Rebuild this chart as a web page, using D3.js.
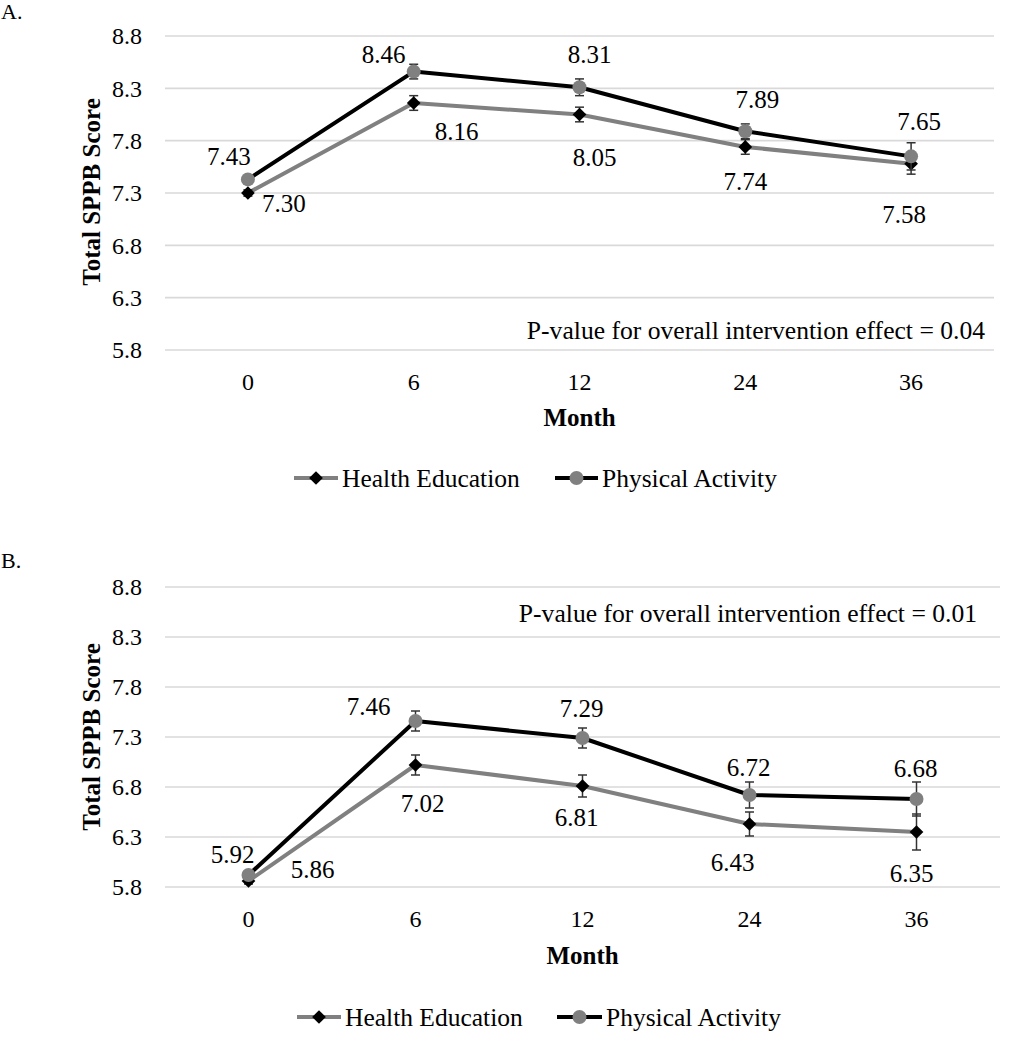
<!DOCTYPE html>
<html>
<head>
<meta charset="utf-8">
<script src="https://cdn.jsdelivr.net/npm/d3@7"></script>
<style>
  html, body { margin: 0; padding: 0; background: #fff; }
  svg { display: block; }
  svg text { font-family: "Liberation Serif", "Times New Roman", Times, Tinos, "Nimbus Roman", "DejaVu Serif", serif !important; fill: #000; }
</style>
</head>
<body>
<svg id="chart" width="1024" height="1050"></svg>
<script>
// ---------- data ----------
const months = ["0", "6", "12", "24", "36"];
const yTicks = [5.8, 6.3, 6.8, 7.3, 7.8, 8.3, 8.8];
const seriesNames = ["Health Education", "Physical Activity"];

// Panel A
const aHealthEdu    = [7.30, 8.16, 8.05, 7.74, 7.58];
const aHealthEduErr = [0.03, 0.07, 0.07, 0.07, 0.10];
const aPhysAct      = [7.43, 8.46, 8.31, 7.89, 7.65];
const aPhysActErr   = [0.03, 0.07, 0.08, 0.07, 0.13];
const aPText = "P-value for overall intervention effect = 0.04";

// Panel B
const bHealthEdu    = [5.86, 7.02, 6.81, 6.43, 6.35];
const bHealthEduErr = [0.03, 0.10, 0.11, 0.12, 0.18];
const bPhysAct      = [5.92, 7.46, 7.29, 6.72, 6.68];
const bPhysActErr   = [0.03, 0.10, 0.10, 0.13, 0.17];
const bPText = "P-value for overall intervention effect = 0.01";

// ---------- label placement (style) ----------
const aHELabelOff = [[36, 10], [43, 29], [15, 43], [0, 35], [-7, 51]];
const aPALabelOff = [[-19, -23], [-30, -17], [10, -33], [12, -32], [8, -35]];
const bHELabelOff = [[64, -12], [7, 38], [-6, 31], [-17, 38], [-5, 41]];
const bPALabelOff = [[-16, -21], [-47, -15], [-1, -30], [-1, -28], [-1, -31]];

const svg = d3.select("#chart");
const GRAY = "#808080";
const FONT = '"Liberation Serif", "Times New Roman", Times, Tinos, "Nimbus Roman", "DejaVu Serif", serif';
const fmtTick = d3.format(".1f");
const fmtVal = d3.format(".2f");
const diamond = d3.symbol(d3.symbolDiamond2, 120);

function drawPanel(cfg) {
  const g = svg.append("g").attr("font-family", FONT);
  const x = d3.scaleBand().domain(months).range([cfg.left, cfg.right]).padding(0);
  const y = d3.scaleLinear().domain([5.8, 8.8]).range([cfg.bottom, cfg.top]);

  g.append("text").attr("x", 1).attr("y", cfg.letterY)
    .style("font-size", "22px").text(cfg.letter);

  g.append("g").selectAll("line").data(yTicks).join("line")
    .attr("x1", cfg.left).attr("x2", cfg.right)
    .attr("y1", d => y(d)).attr("y2", d => y(d))
    .attr("stroke", "#d9d9d9").attr("stroke-width", 1.6);

  const yAxis = d3.axisLeft(y).tickValues(yTicks).tickFormat(fmtTick).tickSize(0).tickPadding(0);
  const ya = g.append("g").attr("transform", `translate(${cfg.tickLabelX},0)`).call(yAxis)
    .attr("font-family", FONT);
  ya.select(".domain").remove();
  ya.selectAll("text").style("font-size", "24px").attr("fill", "#000");

  const xAxis = d3.axisBottom(x).tickSize(0).tickPadding(0);
  const xa = g.append("g").attr("transform", `translate(0,${cfg.xLabelY})`).call(xAxis)
    .attr("font-family", FONT);
  xa.select(".domain").remove();
  xa.selectAll("text").attr("dy", "0.35em").attr("y", 0).style("font-size", "24px").attr("fill", "#000");

  g.append("text").attr("x", (cfg.left + cfg.right) / 2).attr("y", cfg.monthY)
    .attr("text-anchor", "middle").attr("dominant-baseline", "central")
    .style("font-size", "25px").style("font-weight", "bold").text("Month");
  g.append("text")
    .attr("transform", `translate(${cfg.yTitleX},${cfg.yTitleY}) rotate(-90)`)
    .attr("text-anchor", "middle").attr("dominant-baseline", "central")
    .style("font-size", "25px").style("font-weight", "bold").text("Total SPPB Score");

  g.append("text").attr("x", cfg.pX).attr("y", cfg.pY)
    .attr("text-anchor", "end").attr("dominant-baseline", "central")
    .style("font-size", "25.6px").text(cfg.pText);

  const cx = d => x(d) + x.bandwidth() / 2;
  const line = d3.line().x(d => cx(d.m)).y(d => y(d.v));

  const series = [
    { vals: cfg.he, err: cfg.heErr, off: cfg.heOff, lineColor: GRAY, marker: "diamond" },
    { vals: cfg.pa, err: cfg.paErr, off: cfg.paOff, lineColor: "#000", marker: "circle" }
  ];

  series.forEach(s => {
    const pts = months.map((m, i) => ({ m, v: s.vals[i], e: s.err[i], off: s.off[i] }));
    g.append("path").datum(pts).attr("d", line)
      .attr("fill", "none").attr("stroke", s.lineColor).attr("stroke-width", 4)
      .attr("stroke-linejoin", "round");
    s.pts = pts;
  });

  series.forEach(s => {
    const eb = g.append("g").attr("stroke", "#333").attr("stroke-width", 1.5);
    s.pts.forEach(p => {
      const X = cx(p.m);
      eb.append("line").attr("x1", X).attr("x2", X).attr("y1", y(p.v - p.e)).attr("y2", y(p.v + p.e));
      eb.append("line").attr("x1", X - 4.5).attr("x2", X + 4.5).attr("y1", y(p.v - p.e)).attr("y2", y(p.v - p.e));
      eb.append("line").attr("x1", X - 4.5).attr("x2", X + 4.5).attr("y1", y(p.v + p.e)).attr("y2", y(p.v + p.e));
    });
    const mk = g.append("g");
    if (s.marker === "diamond") {
      mk.selectAll("path").data(s.pts).join("path")
        .attr("d", diamond)
        .attr("transform", d => `translate(${cx(d.m)},${y(d.v)})`)
        .attr("fill", "#000");
    } else {
      mk.selectAll("circle").data(s.pts).join("circle")
        .attr("cx", d => cx(d.m)).attr("cy", d => y(d.v)).attr("r", 7)
        .attr("fill", GRAY);
    }
  });

  series.forEach(s => {
    g.append("g").selectAll("text").data(s.pts).join("text")
      .attr("x", d => cx(d.m) + d.off[0]).attr("y", d => y(d.v) + d.off[1])
      .attr("text-anchor", "middle").attr("dominant-baseline", "central")
      .style("font-size", "25px").text(d => fmtVal(d.v));
  });

  const lg = g.append("g");
  const ly = cfg.legendY;
  lg.append("line").attr("x1", cfg.legHE[0]).attr("x2", cfg.legHE[1]).attr("y1", ly).attr("y2", ly)
    .attr("stroke", GRAY).attr("stroke-width", 4);
  lg.append("path").attr("d", diamond)
    .attr("transform", `translate(${(cfg.legHE[0] + cfg.legHE[1]) / 2},${ly})`).attr("fill", "#000");
  lg.append("text").attr("x", cfg.legHE[1] + 4).attr("y", ly).attr("dominant-baseline", "central")
    .style("font-size", "25.5px").text(seriesNames[0]);
  lg.append("line").attr("x1", cfg.legPA[0]).attr("x2", cfg.legPA[1]).attr("y1", ly).attr("y2", ly)
    .attr("stroke", "#000").attr("stroke-width", 4);
  lg.append("circle").attr("cx", (cfg.legPA[0] + cfg.legPA[1]) / 2).attr("cy", ly).attr("r", 7).attr("fill", GRAY);
  lg.append("text").attr("x", cfg.legPA[1] + 4).attr("y", ly).attr("dominant-baseline", "central")
    .style("font-size", "25.5px").text(seriesNames[1]);
}

drawPanel({
  letter: "A.", letterY: 19,
  left: 165, right: 994, top: 36, bottom: 350,
  tickLabelX: 142, xLabelY: 382, monthY: 417, yTitleX: 91, yTitleY: 192,
  pX: 985, pY: 330, pText: aPText,
  he: aHealthEdu, heErr: aHealthEduErr, heOff: aHELabelOff,
  pa: aPhysAct, paErr: aPhysActErr, paOff: aPALabelOff,
  legendY: 478, legHE: [294, 338], legPA: [555, 598]
});

drawPanel({
  letter: "B.", letterY: 568,
  left: 165, right: 1000, top: 587, bottom: 887,
  tickLabelX: 142, xLabelY: 919, monthY: 955, yTitleX: 91, yTitleY: 737,
  pX: 977, pY: 613, pText: bPText,
  he: bHealthEdu, heErr: bHealthEduErr, heOff: bHELabelOff,
  pa: bPhysAct, paErr: bPhysActErr, paOff: bPALabelOff,
  legendY: 1017, legHE: [297, 341], legPA: [557, 602]
});
</script>
</body>
</html>
